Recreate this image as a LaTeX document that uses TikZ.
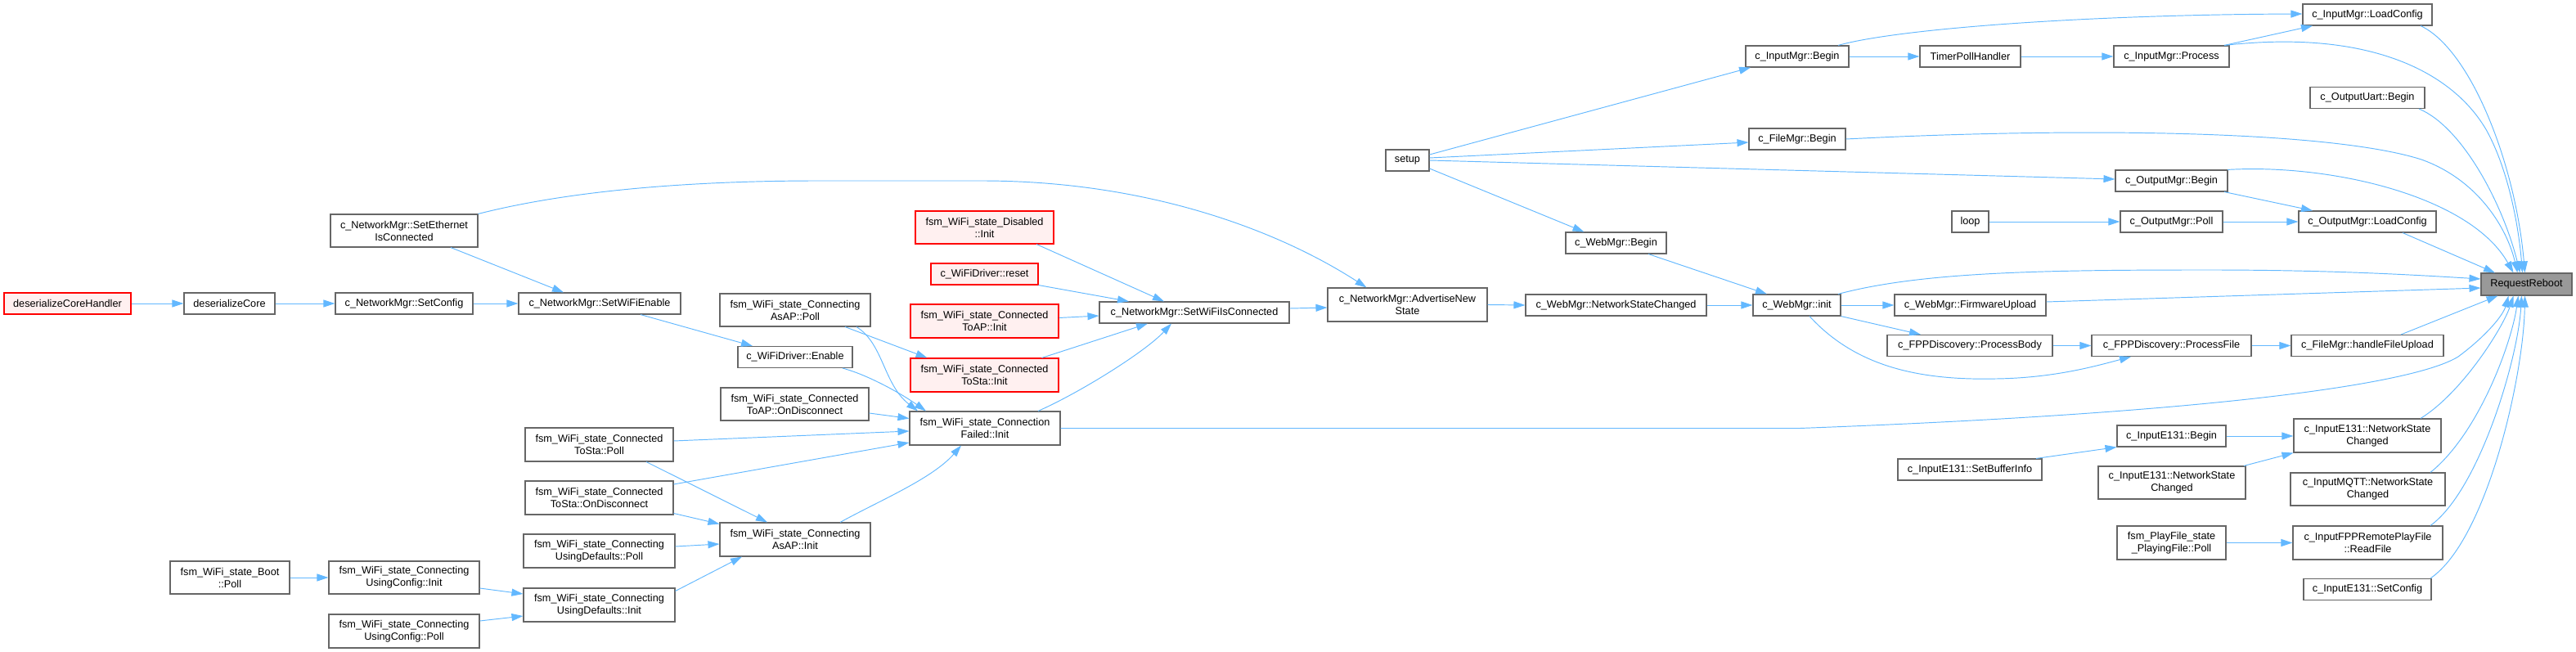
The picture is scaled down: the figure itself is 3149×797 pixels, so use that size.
\documentclass[tikz,border=0pt]{standalone}
\usepackage{fontspec}
\setmainfont{Liberation Sans}
\usetikzlibrary{arrows.meta}
\definecolor{edgec}{HTML}{63B8FF}
\definecolor{boxc}{HTML}{666666}
\definecolor{redc}{HTML}{FF0000}
\definecolor{redfill}{HTML}{FFF0F0}
\definecolor{rrfill}{HTML}{999999}
\begin{document}
\begin{tikzpicture}[x=1pt,y=-1pt,
  nb/.style 2 args={draw=boxc, fill=white, line width=1.1pt, inner sep=0pt, align=center,
    minimum width=#1pt, minimum height=#2pt, font=\fontsize{12.7}{15}\selectfont},
  redbox/.style={draw=redc, fill=redfill},
  focus/.style={fill=rrfill},
  ed/.style={draw=edgec, line width=0.95pt, -{Triangle[length=14pt,width=9pt]}}]
\useasboundingbox (0,0) rectangle (3149,797);
% nodes
\node[nb={155}{26},redbox] (dch) at (82.5,371) {deserializeCoreHandler};
\node[nb={111}{26}] (dc) at (280.5,371) {deserializeCore};
\node[nb={168}{26}] (nsc) at (494,371) {c\_NetworkMgr::SetConfig};
\node[nb={198}{26}] (swe) at (733,371) {c\_NetworkMgr::SetWiFiEnable};
\node[nb={180}{40}] (sec) at (494,282) {c\_NetworkMgr::SetEthernet\\IsConnected};
\node[nb={146}{40}] (boot) at (281,706) {fsm\_WiFi\_state\_Boot\\::Poll};
\node[nb={184}{40}] (cuci) at (494,706) {fsm\_WiFi\_state\_Connecting\\UsingConfig::Init};
\node[nb={184}{41}] (cucp) at (494,771.5) {fsm\_WiFi\_state\_Connecting\\UsingConfig::Poll};
\node[nb={181}{41}] (ctsp) at (732.5,543.5) {fsm\_WiFi\_state\_Connected\\ToSta::Poll};
\node[nb={181}{41}] (ctsod) at (732.5,608.5) {fsm\_WiFi\_state\_Connected\\ToSta::OnDisconnect};
\node[nb={185}{41}] (cudp) at (732.5,673.5) {fsm\_WiFi\_state\_Connecting\\UsingDefaults::Poll};
\node[nb={185}{41}] (cudi) at (732.5,739.5) {fsm\_WiFi\_state\_Connecting\\UsingDefaults::Init};
\node[nb={169}{40},redbox] (dis) at (1203.5,278) {fsm\_WiFi\_state\_Disabled\\::Init};
\node[nb={131}{26},redbox] (rst) at (1203.5,335) {c\_WiFiDriver::reset};
\node[nb={181}{41},redbox] (ctapi) at (1203.5,392.5) {fsm\_WiFi\_state\_Connected\\ToAP::Init};
\node[nb={232}{26}] (nswic) at (1460,382) {c\_NetworkMgr::SetWiFiIsConnected};
\node[nb={184}{40}] (caapp) at (972,379) {fsm\_WiFi\_state\_Connecting\\AsAP::Poll};
\node[nb={140}{26}] (wde) at (972,436.5) {c\_WiFiDriver::Enable};
\node[nb={181}{40}] (ctapod) at (971.5,494) {fsm\_WiFi\_state\_Connected\\ToAP::OnDisconnect};
\node[nb={181}{41},redbox] (ctsi) at (1203.5,458.5) {fsm\_WiFi\_state\_Connected\\ToSta::Init};
\node[nb={184}{41}] (cfi) at (1204,523.5) {fsm\_WiFi\_state\_Connection\\Failed::Init};
\node[nb={184}{41}] (caapi) at (972,659.5) {fsm\_WiFi\_state\_Connecting\\AsAP::Init};
\node[nb={126}{26}] (imb) at (2197,69) {c\_InputMgr::Begin};
\node[nb={123}{26}] (tph) at (2408.5,69) {TimerPollHandler};
\node[nb={118}{26}] (fmb) at (2197,170) {c\_FileMgr::Begin};
\node[nb={53}{26}] (setup) at (1720.5,196) {setup};
\node[nb={123}{26}] (wmb) at (1975.5,297) {c\_WebMgr::Begin};
\node[nb={195}{41}] (nans) at (1720.5,372.5) {c\_NetworkMgr::AdvertiseNew\\State};
\node[nb={221}{26}] (wmnsc) at (1975.5,373) {c\_WebMgr::NetworkStateChanged};
\node[nb={107}{26}] (wmi) at (2196.5,373) {c\_WebMgr::init};
\node[nb={185}{26}] (wmfu) at (2408.5,373) {c\_WebMgr::FirmwareUpload};
\node[nb={45}{26}] (loop) at (2408.5,271) {loop};
\node[nb={202}{26}] (fppb) at (2408,422.5) {c\_FPPDiscovery::ProcessBody};
\node[nb={176}{26}] (e131sbi) at (2408,574) {c\_InputE131::SetBufferInfo};
\node[nb={158}{26}] (imlc) at (2894,18) {c\_InputMgr::LoadConfig};
\node[nb={141}{26}] (imp) at (2654.5,69) {c\_InputMgr::Process};
\node[nb={140}{26}] (oub) at (2894,119.5) {c\_OutputUart::Begin};
\node[nb={137}{26}] (omb) at (2654.5,221) {c\_OutputMgr::Begin};
\node[nb={125}{26}] (omp) at (2654.5,271) {c\_OutputMgr::Poll};
\node[nb={168}{26}] (omlc) at (2894,271) {c\_OutputMgr::LoadConfig};
\node[nb={111}{27},focus] (rr) at (3088.5,347.5) {RequestReboot};
\node[nb={195}{26}] (fppf) at (2654.5,422.5) {c\_FPPDiscovery::ProcessFile};
\node[nb={186}{26}] (fmhfu) at (2894,422.5) {c\_FileMgr::handleFileUpload};
\node[nb={180}{41}] (e131r) at (2894,532.5) {c\_InputE131::NetworkState\\Changed};
\node[nb={133}{26}] (e131b) at (2654.5,533) {c\_InputE131::Begin};
\node[nb={180}{40}] (e131l) at (2655,590) {c\_InputE131::NetworkState\\Changed};
\node[nb={189}{40}] (mqtt) at (2894.5,598) {c\_InputMQTT::NetworkState\\Changed};
\node[nb={133}{41}] (pfp) at (2654.5,663.5) {fsm\_PlayFile\_state\\\_PlayingFile::Poll};
\node[nb={183}{41}] (rf) at (2894.5,663.5) {c\_InputFPPRemotePlayFile\\::ReadFile};
\node[nb={156}{26}] (e131sc) at (2894,720.5) {c\_InputE131::SetConfig};
% edges left part
\draw[ed] (dch.east) -- (dc.west);
\draw[ed] (dc.east) -- (nsc.west);
\draw[ed] (nsc.east) -- (swe.west);
\draw[ed] ([xshift=57pt]sec.south) -- ([xshift=-44pt]swe.north);
\draw[ed] (sec.north east) .. controls (700,232) and (850,221) .. (1000,221) -- (1200,221)
  .. controls (1400,221) and (1560,280) .. ([xshift=-50pt]nans.north);
\draw[ed] ([xshift=50pt]swe.south) -- ([xshift=-52pt]wde.north);
\draw[ed] ([xshift=61pt]caapp.south) -- ([xshift=-70pt]ctsi.north);
\draw[ed] ([xshift=75pt]caapp.south) .. controls (1080,420) and (1080,470) .. ([xshift=-82pt]cfi.north);
\draw[ed] ([xshift=58pt]wde.south) .. controls (1060,458) and (1100,480) .. ([xshift=-72pt]cfi.north);
\draw[ed] ([yshift=-11pt]ctapod.east) -- ([yshift=12pt]cfi.west);
\draw[ed] ([yshift=4.5pt]ctsp.east) -- ([yshift=-3.5pt]cfi.west);
\draw[ed] ([yshift=16.5pt]ctsod.east) -- ([yshift=-17.5pt]cfi.west);
\draw[ed] ([xshift=57.5pt]ctsp.south) -- ([xshift=-34pt]caapi.north);
\draw[ed] ([yshift=-19pt]ctsod.east) -- ([yshift=19pt]caapi.west);
\draw[ed] ([yshift=5.5pt]cudp.east) -- ([yshift=-5.5pt]caapi.west);
\draw[ed] ([yshift=17pt]cudi.east) -- ([xshift=-65pt]caapi.south);
\draw[ed] ([xshift=55pt]caapi.north) .. controls (1075,612) and (1140,585) .. ([xshift=-29pt]cfi.south);
\draw[ed] ([yshift=-13pt]cuci.east) -- ([yshift=13.5pt]cudi.west);
\draw[ed] ([yshift=12.5pt]cucp.east) -- ([yshift=-13.5pt]cudi.west);
\draw[ed] (boot.east) -- (cuci.west);
\draw[ed] ([xshift=65pt]cfi.north) .. controls (1320,480) and (1400,430) .. ([xshift=-28pt]nswic.south);
\draw[ed] ([xshift=70pt]ctsi.north) -- ([xshift=-57pt]nswic.south);
\draw[ed] ([yshift=4pt]ctapi.east) -- ([yshift=-4pt]nswic.west);
\draw[ed] (rst.south east) -- ([xshift=-80pt]nswic.north);
\draw[ed] ([xshift=63.5pt]dis.south) -- ([xshift=-37pt]nswic.north);
\draw[ed] (cfi.east) -- (2200,523.5) .. controls (2700,505) and (2950,470) .. (3005,436)
  .. controls (3040,410) and (3060,385) .. ([xshift=-22pt]rr.south);
% middle
\draw[ed] ([yshift=5pt]nswic.east) -- ([yshift=-3.5pt]nans.west);
\draw[ed] (nans.east) -- (wmnsc.west);
\draw[ed] (wmnsc.east) -- (wmi.west);
\draw[ed] ([yshift=7pt]setup.east) -- ([xshift=-57pt]imb.south);
\draw[ed] ([yshift=3pt]setup.east) -- ([yshift=-4pt]fmb.west);
\draw[ed] (setup.east) -- ([yshift=2pt]omb.west);
\draw[ed] ([yshift=-10pt]setup.east) -- ([xshift=-39pt]wmb.north);
\draw[ed] ([xshift=50pt]imb.north) .. controls (2320,35) and (2550,18) .. ([yshift=1pt]imlc.west);
\draw[ed] (imb.east) -- (tph.west);
\draw[ed] (tph.east) -- (imp.west);
\draw[ed] ([xshift=64.5pt]imp.north) -- ([xshift=-67pt]imlc.south);
\draw[ed] ([xshift=64.5pt]omb.south) -- ([xshift=-67pt]omlc.north);
\draw[ed] (loop.east) -- (omp.west);
\draw[ed] (omp.east) -- (omlc.west);
\draw[ed] ([xshift=39.5pt]wmb.south) -- ([xshift=-36.5pt]wmi.north);
\draw[ed] (wmi.east) -- (wmfu.west);
\draw[ed] (wmi.south east) -- ([xshift=-60pt]fppb.north);
\draw[ed] ([xshift=15.5pt]wmi.south) .. controls (2270,450) and (2350,465) .. (2440,463)
  .. controls (2510,462) and (2560,448) .. ([xshift=-49.5pt]fppf.south);
\draw[ed] (fppb.east) -- (fppf.west);
\draw[ed] (fppf.east) -- (fmhfu.west);
\draw[ed] (e131b.east) -- ([yshift=-0.5pt]e131r.west);
\draw[ed] ([xshift=81pt]e131sbi.north) -- (e131b.south west);
\draw[ed] ([xshift=88pt]e131l.north) -- (e131r.south west);
\draw[ed] (pfp.east) -- (rf.west);
% into RequestReboot
\draw[ed] ([xshift=43pt]omlc.south) -- ([xshift=-38.5pt]rr.north);
\draw[ed] ([xshift=68.5pt]omb.north) .. controls (2850,200) and (3020,240) .. ([xshift=-16pt]rr.north);
\draw[ed] (fmb.east) .. controls (2550,155) and (2850,160) .. (2960,195)
  .. controls (3030,220) and (3065,280) .. ([xshift=-11pt]rr.north);
\draw[ed] ([xshift=63pt]oub.south) .. controls (3010,155) and (3060,250) .. ([xshift=-8pt]rr.north);
\draw[ed] ([xshift=64.5pt]imp.north) .. controls (2900,35) and (3000,90) .. (3040,160)
  .. controls (3070,215) and (3080,290) .. ([xshift=-5pt]rr.north);
\draw[ed] ([xshift=65pt]imlc.south) .. controls (3020,60) and (3075,200) .. ([xshift=-2pt]rr.north);
\draw[ed] ([xshift=50.5pt]wmi.north) .. controls (2350,332) and (2500,330) .. (2700,330)
  .. controls (2850,330) and (2950,336) .. ([yshift=6.5pt]rr.west);
\draw[ed] ([yshift=4pt]wmfu.east) -- ([yshift=-4.5pt]rr.west);
\draw[ed] ([xshift=41pt]fmhfu.north) -- ([xshift=-35pt]rr.south);
\draw[ed] ([xshift=65pt]e131r.north) .. controls (3010,480) and (3060,400) .. ([xshift=-16pt]rr.south);
\draw[ed] ([xshift=76.5pt]mqtt.north) .. controls (3030,530) and (3070,420) .. ([xshift=-10pt]rr.south);
\draw[ed] ([xshift=76.5pt]rf.north) .. controls (3030,600) and (3078,440) .. ([xshift=-6pt]rr.south);
\draw[ed] ([xshift=77pt]e131sc.north) .. controls (3040,660) and (3085,460) .. ([xshift=-2pt]rr.south);
\end{tikzpicture}
\end{document}
